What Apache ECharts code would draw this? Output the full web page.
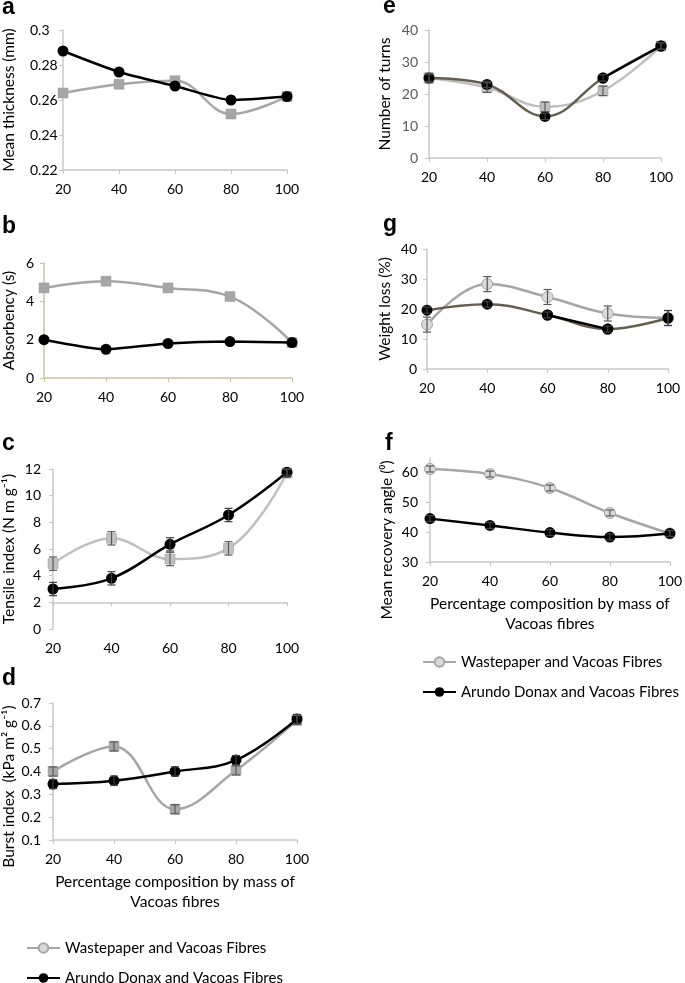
<!DOCTYPE html>
<html><head><meta charset="utf-8">
<script src="https://cdn.jsdelivr.net/npm/echarts@6/dist/echarts.min.js"></script>
<style>html,body{margin:0;padding:0;background:#fff}#c{width:685px;height:983px}</style>
</head><body><div id="c"></div>
<script>
// ---------- data ----------
const categories = ['20', '40', '60', '80', '100'];
const NAME_W = 'Wastepaper and Vacoas Fibres';
const NAME_A = 'Arundo Donax and Vacoas Fibres';

// (a) mean thickness (mm)
const thicknessWaste  = [0.264, 0.269, 0.271, 0.252, 0.262];
const thicknessArundo = [0.288, 0.276, 0.268, 0.260, 0.262];
// (b) absorbency (s)
const absorbWaste  = [4.70, 5.05, 4.70, 4.25, 1.85];
const absorbArundo = [2.00, 1.50, 1.80, 1.90, 1.85];
// (c) tensile index
const tensileWaste     = [4.90, 6.80, 5.25, 6.05, 11.70];
const tensileArundo    = [3.00, 3.80, 6.35, 8.55, 11.75];
const tensileWasteErr  = [0.5, 0.5, 0.5, 0.5, 0.3];
const tensileArundoErr = [0.5, 0.5, 0.5, 0.5, 0.2];
// (d) burst index
const burstWaste     = [0.400, 0.510, 0.235, 0.405, 0.625];
const burstArundo    = [0.345, 0.360, 0.400, 0.450, 0.630];
const burstWasteErr  = [0.02, 0.02, 0.02, 0.02, 0.02];
const burstArundoErr = [0.02, 0.02, 0.02, 0.02, 0.02];
// (e) number of turns
const turnsWaste     = [25, 22, 16, 21, 35];
const turnsArundo    = [25, 23, 13, 25, 35];
const turnsWasteErr  = [1.5, 1.5, 1.5, 1.5, 1];
const turnsArundoErr = [1, 1, 1, 1, 1];
// (g) weight loss (%)
const lossWaste     = [14.8, 28.3, 24.0, 18.5, 17.0];
const lossArundo    = [19.6, 21.6, 18.0, 13.3, 17.0];
const lossWasteErr  = [2.5, 2.5, 2.5, 2.5, 2.5];
const lossArundoErr = [1, 1, 1, 1, 2.5];
// (f) mean recovery angle
const angleWaste     = [61.3, 59.6, 54.9, 46.5, 39.6];
const angleArundo    = [44.6, 42.3, 39.9, 38.4, 39.6];
const angleWasteErr  = [1, 1, 1, 1, 1];
const angleArundoErr = [1, 1, 1, 1, 1];

// ---------- layout / styling ----------
const FONT = 'Lato';
const NAME_FS = 15.5;
const LEG_FS = 15;
const AX_GRAY = '#c8c8c8';
const AX_TAN = '#cdc6a0';
const BROWN = '#655e4d';
const XNAME = 'Percentage composition by mass of\nVacoas fibres';

const panels = [
  { grid: {left: 430, top: 458, width: 243, height: 104},
    y: {min: 30, max: 65, interval: 10, custom: [30, 40, 50, 60]}, yName: 'Mean recovery angle (\u2070)', nameGap: 35, nameShift: 60, labelMargin: 12,
    waste: angleWaste, arundo: angleArundo, wasteErr: angleWasteErr, arundoErr: angleArundoErr,
    wasteStyle: 'circle', wasteColor: '#a6a6a6', arundoLine: '#000', xName: true },
  { grid: {left: 61, top: 30, width: 226, height: 140},
    y: {min: 0.22, max: 0.3, interval: 0.02}, yName: 'Mean thickness (mm)', nameGap: 46, labelMargin: 33, labelAlign: 'left',
    waste: thicknessWaste, arundo: thicknessArundo,
    wasteStyle: 'rect', wasteColor: '#a6a6a6', arundoLine: '#000', arundoSmooth: 0.2 },
  { grid: {left: 42, top: 263, width: 250, height: 115},
    y: {min: 0, max: 6, interval: 2}, yName: 'Absorbency (s)', nameGap: 27, labelMargin: 10, axisColor: AX_TAN,
    waste: absorbWaste, arundo: absorbArundo,
    wasteStyle: 'rect', wasteColor: '#a6a6a6', arundoLine: '#000', arundoSmooth: 0.2 },
  { grid: {left: 50, top: 469, width: 237, height: 160},
    y: {min: 0, max: 12, interval: 2}, yName: 'Tensile index (N m g\u207B\u00B9)', nameGap: 36, labelMargin: 12, crossAt2: true,
    waste: tensileWaste, arundo: tensileArundo, wasteErr: tensileWasteErr, arundoErr: tensileArundoErr,
    wasteStyle: 'rect', wasteColor: '#c0c0c0', arundoLine: '#000' },
  { grid: {left: 53, top: 703, width: 244, height: 137},
    y: {min: 0.1, max: 0.7, interval: 0.1}, yName: 'Burst index  (kPa m\u00B2 g\u207B\u00B9)', nameGap: 36, nameShift: 30, labelMargin: 12,
    waste: burstWaste, arundo: burstArundo, wasteErr: burstWasteErr, arundoErr: burstArundoErr,
    wasteStyle: 'rect', wasteColor: '#a6a6a6', arundoLine: '#000', xName: true },
  { grid: {left: 429, top: 30, width: 232, height: 128},
    y: {min: 0, max: 40, interval: 10}, yName: 'Number of turns', nameGap: 36, labelMargin: 11, yLabelColor: '#595959',
    waste: turnsWaste, arundo: turnsArundo, wasteErr: turnsWasteErr, arundoErr: turnsArundoErr,
    wasteStyle: 'rect', wasteColor: '#bfbfbf', arundoLine: BROWN, blackSegs: [[3, 4]] },
  { grid: {left: 427, top: 249, width: 241, height: 120},
    y: {min: 0, max: 40, interval: 10}, yName: 'Weight loss (%)', nameGap: 34, labelMargin: 10,
    waste: lossWaste, arundo: lossArundo, wasteErr: lossWasteErr, arundoErr: lossArundoErr,
    wasteStyle: 'circle', wasteColor: '#a6a6a6', arundoLine: BROWN, blackSegs: [[2, 3]] }
];

const grids = [], xAxes = [], yAxes = [], series = [];

function errSeries(xi, yi, vals, errs, color) {
  return {
    type: 'custom', xAxisIndex: xi, yAxisIndex: yi, silent: true, z: 4,
    encode: {x: 0, y: [1, 2]},
    data: vals.map((v, i) => [i, v - errs[i], v + errs[i]]),
    renderItem(params, api) {
      const lo = api.coord([api.value(0), api.value(1)]);
      const hi = api.coord([api.value(0), api.value(2)]);
      const w = 4, st = {stroke: color, lineWidth: 1.2};
      return {type: 'group', children: [
        {type: 'line', shape: {x1: lo[0], y1: lo[1], x2: hi[0], y2: hi[1]}, style: st},
        {type: 'line', shape: {x1: lo[0] - w, y1: lo[1], x2: lo[0] + w, y2: lo[1]}, style: st},
        {type: 'line', shape: {x1: hi[0] - w, y1: hi[1], x2: hi[0] + w, y2: hi[1]}, style: st}
      ]};
    }
  };
}

panels.forEach((p, gi) => {
  const axisColor = p.axisColor || AX_GRAY;
  grids.push(p.grid);
  const yi = yAxes.length;
  yAxes.push({
    type: 'value', gridIndex: gi, min: p.y.min, max: p.y.max, interval: p.y.interval,
    splitLine: {show: false},
    axisLine: {show: true, lineStyle: {color: axisColor, width: 1.5}},
    axisTick: {show: true, length: 4, lineStyle: {color: axisColor, width: 1.2}, customValues: p.y.custom},
    axisLabel: {fontSize: 14, fontFamily: FONT, color: p.yLabelColor || '#000', margin: p.labelMargin,
                align: p.labelAlign, customValues: p.y.custom},
    name: p.yName, nameLocation: 'middle', nameGap: p.nameGap,
    nameTextStyle: {fontSize: NAME_FS, fontFamily: FONT, color: '#000',
                    padding: p.nameShift ? [0, p.nameShift, 0, 0] : 0}
  });
  let zeroIdx;
  if (p.crossAt2) {
    zeroIdx = yAxes.length;
    yAxes.push({type: 'value', gridIndex: gi, show: false, min: p.y.min - 2, max: p.y.max - 2, interval: 2});
  }
  const xi = xAxes.length;
  xAxes.push({
    type: 'category', gridIndex: gi, data: categories, boundaryGap: false,
    axisLine: {show: true, onZero: !!p.crossAt2, onZeroAxisIndex: zeroIdx, lineStyle: {color: axisColor, width: 1.5}},
    axisTick: {show: true, length: 4, lineStyle: {color: axisColor, width: 1.2}},
    axisLabel: {fontSize: 14, fontFamily: FONT, color: '#000', margin: 12},
    name: p.xName ? XNAME : '', nameLocation: 'middle', nameGap: 32,
    nameTextStyle: {fontSize: NAME_FS, fontFamily: FONT, color: '#000', lineHeight: 20}
  });
  const wasteCircle = p.wasteStyle === 'circle';
  series.push({
    type: 'line', name: NAME_W, xAxisIndex: xi, yAxisIndex: yi, data: p.waste,
    smooth: 0.4, z: 2,
    lineStyle: {color: p.wasteColor, width: 2.5},
    symbol: wasteCircle ? 'circle' : 'rect', symbolSize: wasteCircle ? 11 : 10,
    itemStyle: wasteCircle ? {color: '#d9d9d9', borderColor: p.wasteColor, borderWidth: 1}
                           : {color: p.wasteColor, borderColor: '#999', borderWidth: 0.5},
    emphasis: {disabled: true}
  });
  series.push({
    type: 'line', name: NAME_A, xAxisIndex: xi, yAxisIndex: yi, data: p.arundo,
    smooth: p.arundoSmooth != null ? p.arundoSmooth : 0.4, z: 3,
    lineStyle: {color: p.arundoLine, width: 2.5},
    symbol: 'circle', symbolSize: 11,
    itemStyle: {color: '#000'},
    emphasis: {disabled: true}
  });
  (p.blackSegs || []).forEach(seg => {
    series.push({
      type: 'line', name: 'seg', xAxisIndex: xi, yAxisIndex: yi,
      data: p.arundo.map((v, i) => (i >= seg[0] && i <= seg[1]) ? v : null),
      smooth: 0.4, z: 3, lineStyle: {color: '#000', width: 2.5},
      symbol: 'circle', symbolSize: 11, itemStyle: {color: '#000'}, emphasis: {disabled: true}
    });
  });
  if (p.wasteErr) series.push(errSeries(xi, yi, p.waste, p.wasteErr, '#595959'));
  if (p.arundoErr) series.push(errSeries(xi, yi, p.arundo, p.arundoErr, '#404040'));
});

const letters = [
  ['a', 2, 19], ['b', 2, 238], ['c', 2, 455], ['d', 2, 690],
  ['e', 383, 18], ['g', 383, 236], ['f', 385, 455]
];

function legendItem(name, left, centerY) {
  return {
    orient: 'vertical', left, top: centerY - 8, padding: 0,
    itemWidth: 33, itemHeight: 12, selectedMode: false, data: [name],
    textStyle: {fontSize: LEG_FS, fontFamily: FONT, color: '#000', lineHeight: 16}
  };
}

const option = {
  animation: false,
  backgroundColor: '#fff',
  textStyle: {fontFamily: FONT},
  grid: grids, xAxis: xAxes, yAxis: yAxes, series,
  legend: [
    legendItem(NAME_W, 26, 948), legendItem(NAME_A, 26, 978),
    legendItem(NAME_W, 422, 662), legendItem(NAME_A, 422, 692)
  ],
  graphic: letters.map(([t, x, y]) => ({
    type: 'text', x, y,
    style: {text: t, font: 'bold 23px "Liberation Sans"', fill: '#000', verticalAlign: 'bottom'}
  }))
};

const chart = echarts.init(document.getElementById('c'), null, {renderer: 'canvas'});
chart.setOption(option);
</script>
</body></html>
